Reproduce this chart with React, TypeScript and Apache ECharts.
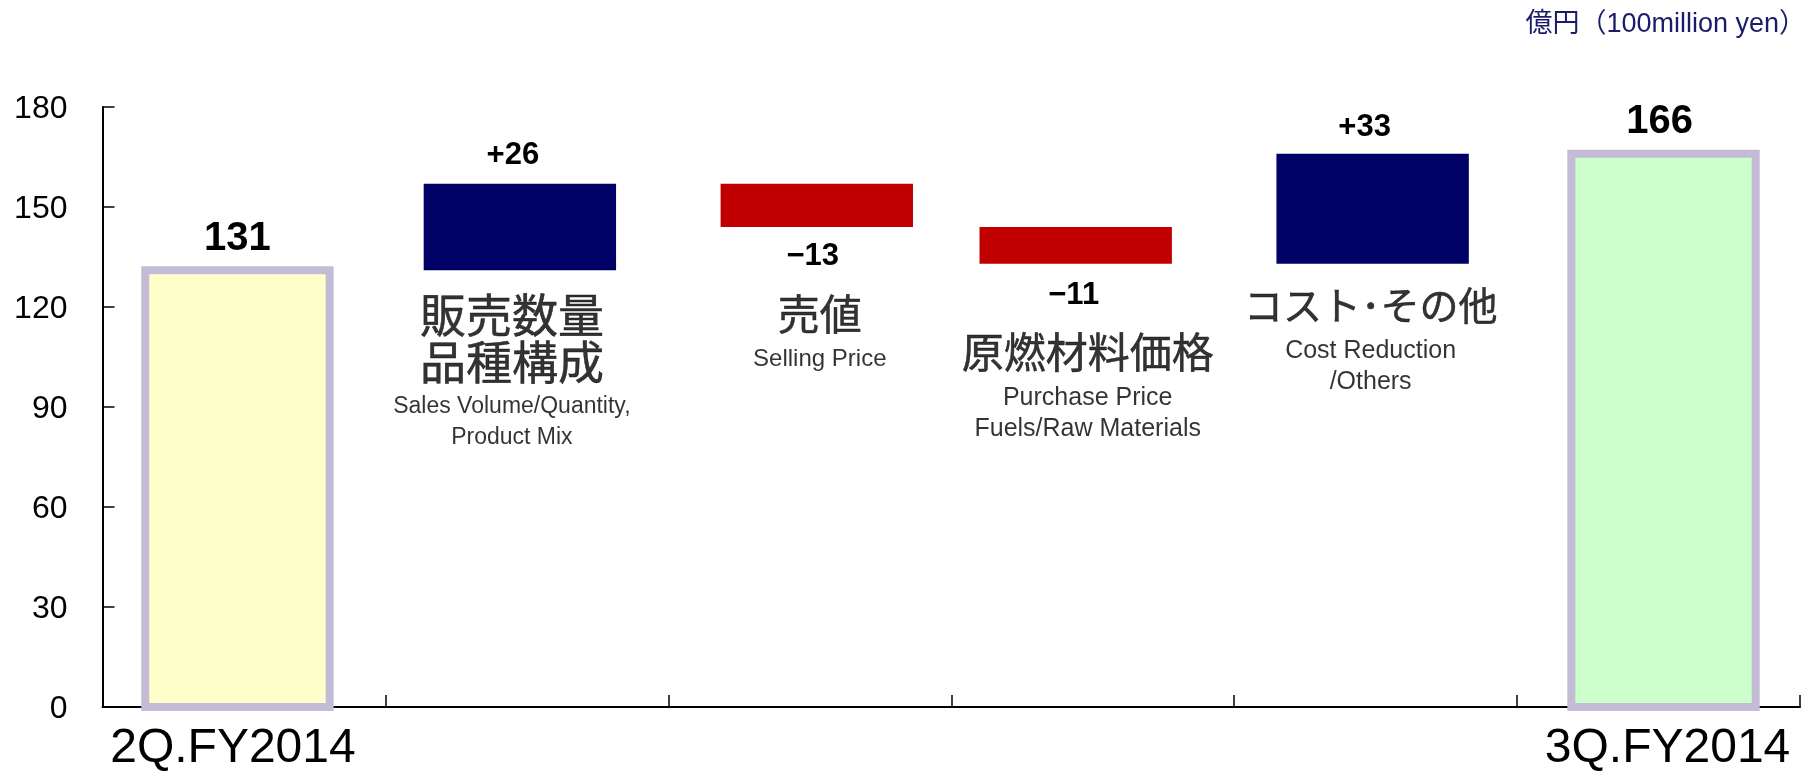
import React, { useEffect, useRef } from "react";
import * as echarts from "echarts";

const categories = ["2Q.FY2014", "販売数量品種構成", "売値", "原燃材料価格", "コスト･その他", "3Q.FY2014"];
const baseValues = [0, 131, 144, 133, 133, 0];
const barValues = [131, 26, 13, 11, 33, 166];
const valueLabels = ["131", "+26", "−13", "−11", "+33", "166"];
const descJa = [[], ["販売数量", "品種構成"], ["売値"], ["原燃材料価格"], ["コスト･その他"], []];
const descEn = [[], ["Sales Volume/Quantity,", "Product Mix"], ["Selling Price"], ["Purchase Price", "Fuels/Raw Materials"], ["Cost Reduction", "/Others"], []];
const yTicks = { min: 0, max: 180, interval: 30 };
const unitText = "億円（100million yen）";

// layout / style constants
const descAnchor = [0, 124.5, 124.5, 113, 127.2, 0];
const descShift = [0, -15, 10, -5, -5, 0];
const jaSize = [0, 46, 42, 42, 39, 0];
const enSize = [0, 23, 24, 25, 25, 0];
const barShift = [-6.5, -7, 7, -17, -3, 5];
const labelShift = [0, -7, -4, -2, -8, -4];
const labelGap = [34, 30, 27, 30, 28, 35];
const barFill = ["#FFFFCC", "#000066", "#C00000", "#C00000", "#000066", "#CCFFCC"];
const FONT = "'Liberation Sans', 'Noto Sans CJK JP', sans-serif";

export default function App() {
  const ref = useRef<HTMLDivElement>(null);
  useEffect(() => {
    if (!ref.current) return;
    const chart = echarts.init(ref.current, undefined, { renderer: "svg" });
    const n = categories.length;
    const barData = categories.map((_, i) => [i, baseValues[i], baseValues[i] + barValues[i]]);
    const descData = categories
      .map((_, i) => i)
      .filter((i) => descJa[i].length > 0)
      .map((i) => ({
        value: [i, descAnchor[i]],
        label: {
          offset: [descShift[i], 0],
          formatter: [
            ...descJa[i].map((t) => `{ja${i}|${t}}`),
            ...descEn[i].map((t, k) => `{${k === 0 ? "enA" : "enB"}${i}|${t}}`),
          ].join("\n"),
        },
      }));
    const rich: Record<string, any> = {};
    for (let i = 0; i < n; i++) {
      rich["ja" + i] = {
        fontSize: jaSize[i], lineHeight: 47, color: "#000", fontFamily: FONT, align: "center",
        textBorderColor: "#000", textBorderWidth: 0.5,
      };
      rich["enA" + i] = { fontSize: enSize[i], lineHeight: 37, color: "#000", fontFamily: FONT, align: "center" };
      rich["enB" + i] = { fontSize: enSize[i], lineHeight: 26, color: "#000", fontFamily: FONT, align: "center" };
    }
    chart.setOption({
      animation: false,
      textStyle: { fontFamily: FONT },
      grid: { left: 102.5, right: 19, top: 107, bottom: 70, containLabel: false },
      graphic: [
        {
          type: "text",
          right: 13,
          top: 9,
          style: { text: unitText, fontSize: 27, fill: "#1B1B6B", fontFamily: FONT },
        },
      ],
      xAxis: {
        type: "category",
        data: categories,
        axisLine: { lineStyle: { color: "#000", width: 2 } },
        axisTick: { show: true, inside: true, length: 12, lineStyle: { color: "#000", width: 1.5 } },
        axisLabel: {
          interval: 0,
          margin: 14,
          color: "#000",
          formatter: (v: string, i: number) => (i === 0 ? `{l|${v}}` : i === n - 1 ? `{r|${v}}` : ""),
          rich: {
            l: { fontSize: 48, fontFamily: FONT, color: "#000", padding: [0, 22, 0, 0] },
            r: { fontSize: 48, fontFamily: FONT, color: "#000", padding: [0, 0, 0, 18] },
          },
        },
      },
      yAxis: {
        type: "value",
        min: yTicks.min,
        max: yTicks.max,
        interval: yTicks.interval,
        splitLine: { show: false },
        axisLine: { show: true, lineStyle: { color: "#000", width: 2 } },
        axisTick: { show: true, inside: true, length: 12, lineStyle: { color: "#000", width: 1.5 } },
        axisLabel: { fontSize: 32, color: "#000", margin: 35, fontFamily: FONT },
      },
      series: [
        {
          type: "custom",
          data: barData,
          encode: { x: 0, y: [1, 2] },
          renderItem: (params: any, api: any) => {
            const i = params.dataIndex;
            const lo = api.value(1);
            const hi = api.value(2);
            const pLo = api.coord([i, lo]);
            const pHi = api.coord([i, hi]);
            const band = api.size([1, 0])[0];
            const edge = i === 0 || i === n - 1;
            const neg = i === 2 || i === 3;
            const w = band * 0.68 - (edge ? 8 : 0);
            const cx = pLo[0] + barShift[i];
            return {
              type: "group",
              children: [
                {
                  type: "rect",
                  shape: { x: cx - w / 2, y: pHi[1], width: w, height: pLo[1] - pHi[1] },
                  style: {
                    fill: barFill[i],
                    stroke: edge ? "#C4BCD6" : null,
                    lineWidth: edge ? 8 : 0,
                  },
                },
                {
                  type: "text",
                  style: {
                    x: cx + labelShift[i],
                    y: neg ? pLo[1] + labelGap[i] : pHi[1] - labelGap[i],
                    text: valueLabels[i],
                    fontSize: edge ? 40 : 31,
                    fontWeight: "bold",
                    fontFamily: FONT,
                    fill: "#000",
                    align: "center",
                    verticalAlign: "middle",
                  },
                },
              ],
            };
          },
        },
        {
          type: "scatter",
          symbolSize: 0,
          data: descData,
          label: {
            show: true,
            position: "bottom",
            distance: 0,
            align: "center",
            color: "#000",
            rich,
          },
        },
      ],
    });
    return () => chart.dispose();
  }, []);
  return <div ref={ref} style={{ position: "fixed", left: 0, top: 0, width: 1819, height: 777 }} />;
}
